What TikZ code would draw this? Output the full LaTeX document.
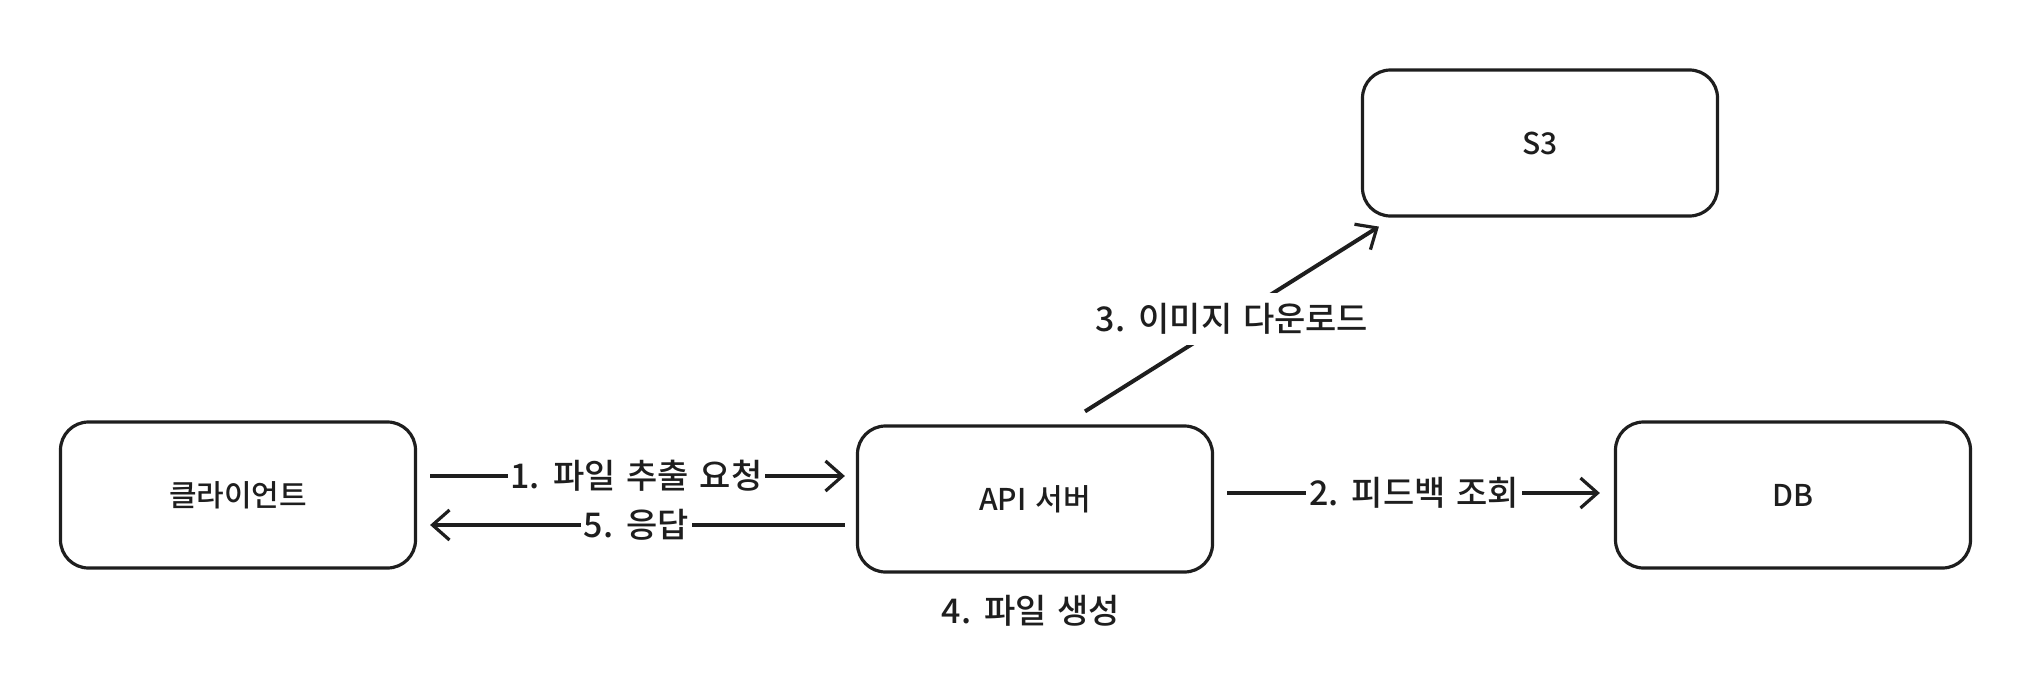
\documentclass[tikz,border=0pt]{standalone}
\usepackage{fontspec}
\setmainfont{Noto Sans CJK KR}[UprightFont={* Medium},WordSpace={1.4}]
\usetikzlibrary{arrows.meta,calc}
\definecolor{ink}{HTML}{1E1E1E}
\tikzset{
  box/.style={draw=ink, line width=3.2pt, rounded corners=28pt, minimum width=355pt, minimum height=146pt, inner sep=0pt, font=\fontsize{30}{34}\selectfont, text=ink},
  conn/.style={draw=ink, line width=4pt, -{Straight Barb[length=17pt,width=30pt,line width=3.2pt]}},
  lbl/.style={fill=white, inner sep=3pt, font=\fontsize{34}{38}\selectfont, text=ink}
}
\begin{document}
\begin{tikzpicture}[x=1pt,y=-1pt]
\useasboundingbox (0,0) rectangle (2038,688);
\node[box] (client) at (238,495) {클라이언트};
\node[box] (api) at (1035,499) {API 서버};
\node[box] (db) at (1793,495) {DB};
\node[box] (s3) at (1540,143) {S3};
\coordinate (y1) at (0,476);
\coordinate (y5) at (0,525);
\coordinate (y2) at (0,493);
\draw[conn, shorten <=13pt, shorten >=11pt] (client.east |- y1) -- node[lbl] {1. 파일 추출 요청} (api.west |- y1);
\draw[conn, shorten <=11pt, shorten >=13pt] (api.west |- y5) -- node[lbl] {5. 응답} (client.east |- y5);
\draw[conn, shorten <=13pt, shorten >=14pt] (api.east |- y2) -- node[lbl] {2. 피드백 조회} (db.west |- y2);
\draw[conn] ($(api.north)+(50,-13)$) -- node[lbl, inner sep=10pt] {3. 이미지 다운로드} ($(s3.south west)+(18,9)$);
\node[lbl] (gen) at (1031,611) {4. 파일 생성};
\end{tikzpicture}
\end{document}
